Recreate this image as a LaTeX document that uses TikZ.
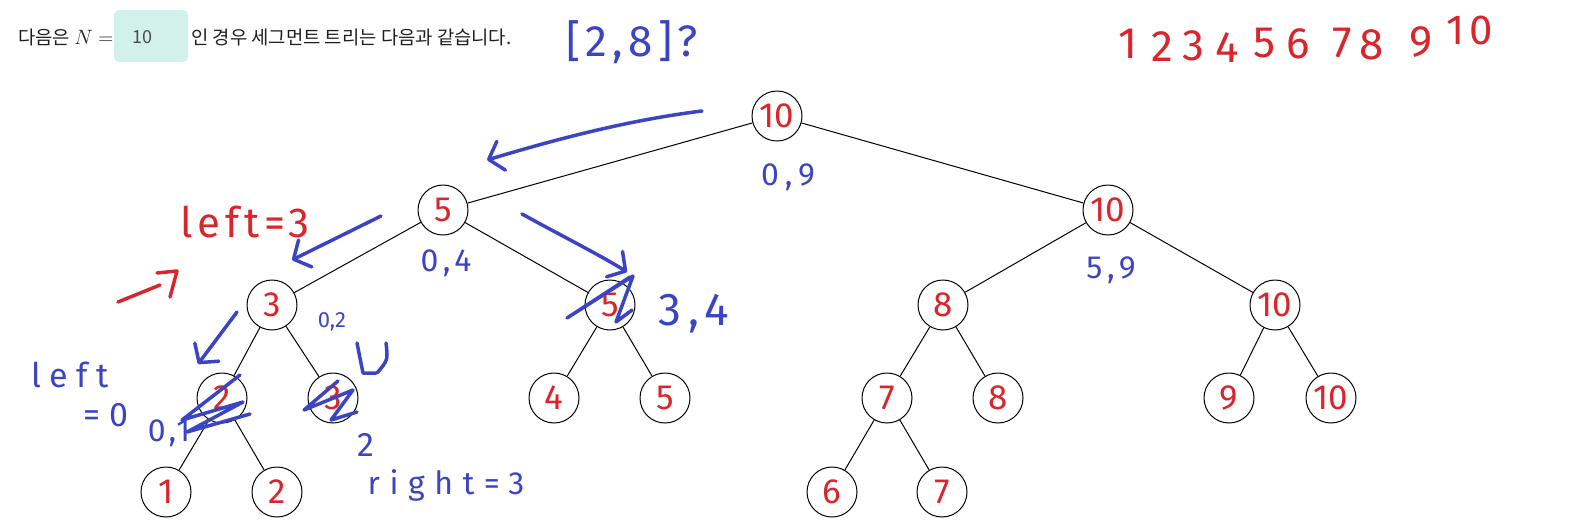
\documentclass[tikz,border=0pt]{standalone}
\usepackage{fontspec}
\usepackage{amsmath}
\usepackage{xcolor}
\usetikzlibrary{arrows.meta}

\newfontfamily\kr{Noto Sans CJK KR}
\newfontfamily\hand{Fira Sans}

\definecolor{penred}{HTML}{D9262C}
\definecolor{penblue}{HTML}{3B45C4}
\definecolor{boxteal}{HTML}{D3F1EB}

% spaced hand writing
\newcommand\handsp[2]{\hand\fontsize{#1}{#1}\selectfont\addfontfeature{LetterSpace=#2}}

\begin{document}
\begin{tikzpicture}[x=1pt,y=-1pt,
    tnode/.style={circle, draw, line width=1pt, fill=white, minimum size=50pt,
        inner sep=0pt, text=penred, font=\hand\fontsize{35}{35}\selectfont},
    bluenote/.style={text=penblue, inner sep=0pt, font=\hand\fontsize{30}{30}\selectfont},
    rednote/.style={text=penred, inner sep=0pt, font=\hand\fontsize{38}{38}\selectfont},
    bluepen/.style={draw=penblue, line width=3.5pt, line cap=round, line join=round},
    redpen/.style={draw=penred, line width=3.5pt, line cap=round, line join=round},
    handarrow/.style={bluepen, -{Straight Barb[length=13pt,width=30pt,round]}}]

\useasboundingbox (0,0) rectangle (1578,531);

% Tree levels (y)
\def\yA{116}
\def\yB{210}
\def\yC{305}
\def\yD{398}
\def\yE{492}

% Heading line
\node[anchor=west, inner sep=0pt, text=black!88,
    font=\kr\fontsize{18.8}{22}\selectfont] (intro) at (18,37)
    {다음은 {\fontsize{22}{22}\selectfont$N =$}};
\node[fill=boxteal, rounded corners=5pt, minimum width=74pt, minimum height=52pt,
    inner sep=0pt] (nbox) at (151,36) {};
\node[text=black!70, font=\kr\fontsize{18}{18}\selectfont] (nval) at (142,37) {10};
\node[anchor=west, inner sep=0pt, text=black!88,
    font=\kr\fontsize{18.8}{22}\selectfont] (rest) at (191,37) {인 경우 세그먼트 트리는 다음과 같습니다.};

% Array values
\foreach \d/\x/\y in {1/1128/44, 2/1162/47, 3/1193/46, 4/1227/48, 5/1265/43,
    6/1298/44, 7/1342/43, 8/1372/45, 9/1421/42}
    \node[rednote, font=\hand\fontsize{44}{44}\selectfont] (v\d) at (\x,\y) {\d};
\node[rednote, font=\handsp{42}{12}] (v10) at (1470,30) {10};

% Tree nodes
\node[tnode] (n1) at (777,\yA) {10};
\node[tnode] (n2) at (443,\yB) {5};
\node[tnode] (n3) at (1108,\yB) {10};
\node[tnode] (n4) at (272,\yC) {3};
\node[tnode] (n5) at (610,\yC) {5};
\node[tnode] (n6) at (943,\yC) {8};
\node[tnode] (n7) at (1275,\yC) {10};
\node[tnode] (n8) at (222,\yD) {2};
\node[tnode] (n9) at (333,\yD) {3};
\node[tnode] (n10) at (554,\yD) {4};
\node[tnode] (n11) at (665,\yD) {5};
\node[tnode] (n12) at (887,\yD) {7};
\node[tnode] (n13) at (998,\yD) {8};
\node[tnode] (n14) at (1229,\yD) {9};
\node[tnode] (n15) at (1331,\yD) {10};
\node[tnode] (n16) at (166,\yE) {1};
\node[tnode] (n17) at (277,\yE) {2};
\node[tnode] (n24) at (832,\yE) {6};
\node[tnode] (n25) at (942,\yE) {7};

% Tree edges
\foreach \a/\b in {n1/n2, n1/n3, n2/n4, n2/n5, n3/n6, n3/n7, n4/n8, n4/n9,
    n5/n10, n5/n11, n6/n12, n6/n13, n7/n14, n7/n15, n8/n16, n8/n17,
    n12/n24, n12/n25}
    \draw[line width=1pt] (\a) -- (\b);

% Range notes
\node[bluenote, font=\handsp{44}{12}] (ask) at (632,42) {[2,8]?};
\node[bluenote, font=\handsp{32}{20}] (r09) at (788,177) {0,9};
\node[bluenote, font=\handsp{32}{15}] (r04) at (446,263) {0,4};
\node[bluenote, font=\handsp{32}{15}] (r59) at (1111,270) {5,9};
\node[bluenote, font=\hand\fontsize{22}{22}\selectfont] (r02) at (332,322) {0,2};
\node[bluenote, font=\handsp{46}{15}] (r34) at (694,314) {3,4};
\node[bluenote, font=\handsp{32}{10}] (r01) at (169,433) {0,1};
\node[bluenote, font=\hand\fontsize{34}{34}\selectfont] (two) at (366,445) {2};
\node[bluenote, font=\handsp{34}{25}] (lft) at (70,375) {left};
\node[bluenote, font=\handsp{34}{25}] (eq0) at (106,415) {=0};
\node[bluenote, font=\handsp{32}{30}] (rgt) at (446,485) {right=3};
\node[rednote, font=\handsp{42}{12}] (lft3) at (245,222) {left=3};

% Hand arrows
\coordinate (a1s) at (702,111);
\coordinate (a1e) at (487,160);
\coordinate (a2s) at (381,216);
\coordinate (a2e) at (292,260);
\coordinate (a3s) at (522,214);
\coordinate (a3e) at (627,272);
\coordinate (a4s) at (237,312);
\coordinate (a4e) at (198,364);
\draw[handarrow] (a1s) .. controls (630,120) and (560,138) .. (a1e);
\draw[handarrow] (a2s) -- (a2e);
\draw[handarrow] (a3s) .. controls (560,235) and (600,255) .. (a3e);
\draw[handarrow] (a4s) -- (a4e);

% Small marks
\draw[redpen] (118,302) -- (160,285);
\draw[redpen] (157,273) -- (177,271) -- (170,297);
\draw[bluepen] (357,343) -- (363,373) -- (376,373);
\draw[bluepen] (386,343) .. controls (388,360) .. (377,373);

% Scribbles over nodes
\draw[bluepen] (240,375) -- (182,420) -- (243,402) -- (187,432) -- (250,414);
\draw[bluepen] (338,381) -- (304,410) -- (353,390) -- (331,420) -- (357,412);
\draw[bluepen] (630,277) -- (567,318) -- (633,276) -- (616,322) -- (632,310);

\end{tikzpicture}
\end{document}
